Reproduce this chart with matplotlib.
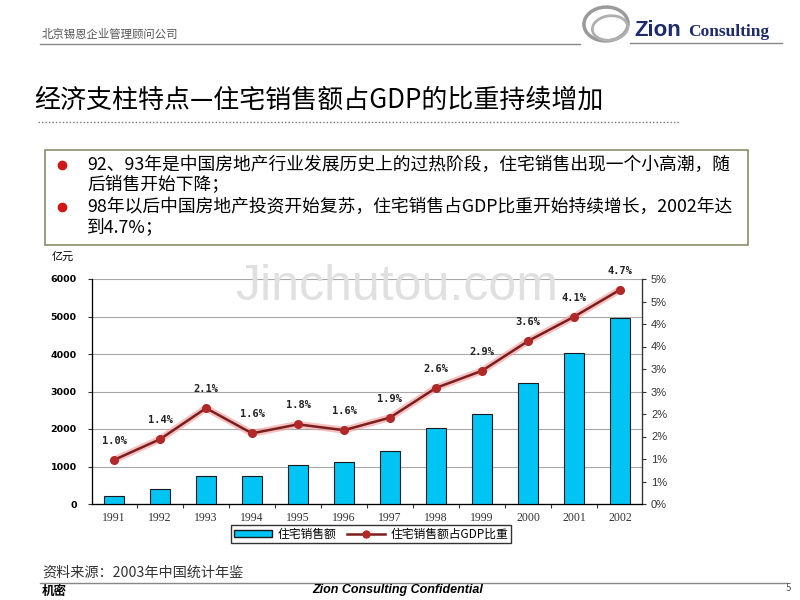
import matplotlib
matplotlib.use("Agg")
import matplotlib.pyplot as plt
from matplotlib.patches import Rectangle, Ellipse, Patch
from matplotlib.lines import Line2D

plt.rcParams["font.family"] = ["Noto Sans CJK SC", "DejaVu Sans"]

years = ["1991", "1992", "1993", "1994", "1995", "1996",
         "1997", "1998", "1999", "2000", "2001", "2002"]
sales = [220, 390, 745, 745, 1030, 1110, 1405, 2020, 2400, 3235, 4035, 4965]
gdp_share = [0.98, 1.44, 2.13, 1.57, 1.77, 1.64, 1.92, 2.58, 2.96, 3.62, 4.16, 4.76]
share_labels = ["1.0%", "1.4%", "2.1%", "1.6%", "1.8%", "1.6%",
                "1.9%", "2.6%", "2.9%", "3.6%", "4.1%", "4.7%"]
left_ticks = [0, 1000, 2000, 3000, 4000, 5000, 6000]
right_ticks = [0, 0.5, 1, 1.5, 2, 2.5, 3, 3.5, 4, 4.5, 5]
right_tick_labels = ["0%", "1%", "1%", "2%", "2%", "3%", "3%", "4%", "4%", "5%", "5%"]

title = "经济支柱特点—住宅销售额占GDP的比重持续增加"
bullets = [
    "92、93年是中国房地产行业发展历史上的过热阶段，住宅销售出现一个小高潮，随\n后销售开始下降；",
    "98年以后中国房地产投资开始复苏，住宅销售占GDP比重开始持续增长，2002年达\n到4.7%；",
]

W, H = 800, 600


def fx(px):
    return px / W


def fy(py):
    return 1 - py / H


fig = plt.figure(figsize=(8, 6), dpi=100)

# slide header
fig.text(fx(42), fy(34), "北京锡恩企业管理顾问公司", fontsize=8.2, color="#555555", va="center")
fig.add_artist(Line2D([fx(40), fx(580)], [fy(44), fy(44)], color="#888888", lw=1))
fig.add_artist(Line2D([fx(630), fx(782)], [fy(43), fy(43)], color="#888888", lw=1))
fig.add_artist(Ellipse((fx(606), fy(24)), fx(44), 34 / H, angle=-20, fill=False,
                       ec="#9a9a9a", lw=2.5))
fig.add_artist(Ellipse((fx(610), fy(28)), fx(36), 24 / H, angle=25, fill=False,
                       ec="#b0b0b0", lw=2))
fig.text(fx(634), fy(31), "Zion", fontsize=16, fontweight="bold", color="#1c2a6e",
         family="Liberation Sans", va="center")
fig.text(fx(688), fy(32), "Consulting", fontsize=12.5, fontweight="bold", color="#1c2a6e",
         family="Liberation Serif", va="center")

# title
fig.text(fx(34), fy(100), title, fontsize=18.7, color="black", va="center")
fig.add_artist(Line2D([fx(38), fx(680)], [fy(122), fy(122)], color="#777777", lw=1,
                      linestyle=(0, (1, 1.5))))

# text box
fig.add_artist(Rectangle((fx(45), fy(245)), fx(703), 95 / H, fill=False,
                         ec="#8c8c6c", lw=1.2))
for i, txt in enumerate(bullets):
    y0 = 165 + i * 42
    fig.add_artist(Line2D([fx(62)], [fy(y0)], marker="o", markersize=6,
                          color="#d01818", linestyle="none"))
    fig.text(fx(87), fy(y0 - 9), txt, fontsize=12.8, va="top", linespacing=1.15)

# chart
ax = fig.add_axes([fx(92), fy(504), fx(550), 225 / H])
x = list(range(len(years)))
ax.bar(x, sales, width=0.42, color="#00c4f4", edgecolor="#1a1a1a", linewidth=0.8, zorder=3)
ax.set_xlim(-0.48, len(years) - 0.52)
ax.set_ylim(0, 6000)
ax.set_yticks(left_ticks)
ax.set_yticklabels([str(v) for v in left_ticks], fontsize=6.8, fontweight="bold",
                   family="DejaVu Sans")
ax.yaxis.grid(True, color="#a8a8a8", lw=0.8)
ax.set_axisbelow(True)
ax.set_xticks([i + 0.5 for i in x[:-1]])
ax.set_xticklabels([])
ax.set_xticks(x, minor=True)
ax.set_xticklabels(years, minor=True, fontsize=8.5, family="Liberation Serif", color="#333333")
ax.tick_params(axis="x", which="major", length=3, direction="out", color="#333333")
ax.tick_params(axis="x", which="minor", length=0, pad=6)
ax.tick_params(axis="y", length=3, direction="out", color="#333333", pad=8)
ax.spines["top"].set_visible(False)
for s in ("left", "bottom", "right"):
    ax.spines[s].set_color("#333333")
    ax.spines[s].set_linewidth(0.9)

ax2 = ax.twinx()
ax2.plot(x, gdp_share, color="#f4a6a6", lw=5, alpha=0.7, solid_capstyle="round", zorder=2)
ax2.plot(x, gdp_share, color="#7a1e1e", lw=1.8, marker="o", markersize=5.5,
         markerfacecolor="#b02828", markeredgecolor="#b02828", zorder=3)
for xi, yi, lab in zip(x, gdp_share, share_labels):
    ax2.annotate(lab, (xi, yi), xytext=(0, 10), textcoords="offset points",
                 ha="center", va="bottom", fontsize=7.5, fontweight="bold",
                 family="DejaVu Sans Mono", color="#222222")
ax2.set_ylim(0, 5)
ax2.set_yticks(right_ticks)
ax2.set_yticklabels(right_tick_labels, fontsize=8, family="Liberation Sans", color="#333333")
ax2.tick_params(axis="y", length=3, direction="out", color="#333333")
ax2.spines["top"].set_visible(False)
ax2.spines["right"].set_color("#333333")

fig.text(fx(52), fy(257), "亿元", fontsize=8, va="center")

# watermark
fig.text(fx(397), fy(287), "Jinchutou.com", fontsize=36, color="#e0e0e0",
         family="Liberation Sans", ha="center", va="center", zorder=0)

# legend
handles = [
    Patch(facecolor="#00c4f4", edgecolor="#1a1a1a", label="住宅销售额"),
    Line2D([], [], color="#7a1e1e", lw=1.8, marker="o", markersize=5,
           markerfacecolor="#b02828", markeredgecolor="#b02828", label="住宅销售额占GDP比重"),
]
fig.legend(handles=handles, loc="center", bbox_to_anchor=(fx(371), fy(534)), ncol=2,
           fontsize=8.5, frameon=True, fancybox=False, edgecolor="black",
           handlelength=3.2, handleheight=0.6, borderpad=0.2, columnspacing=0.9,
           handletextpad=0.5, borderaxespad=0)

# footer
fig.text(fx(42), fy(573), "资料来源：2003年中国统计年鉴", fontsize=10.2, color="#333333", va="center")
fig.add_artist(Line2D([fx(40), fx(786)], [fy(583), fy(583)], color="#888888", lw=1))
fig.text(fx(42), fy(592), "机密", fontsize=9, fontweight="bold", style="italic", va="center")
fig.text(fx(398), fy(590), "Zion Consulting Confidential", fontsize=9, fontweight="bold",
         style="italic", family="Liberation Sans", ha="center", va="center")
fig.text(fx(786), fy(588), "5", fontsize=7, color="#555555", va="center")

fig.savefig("out.png", dpi=100)
